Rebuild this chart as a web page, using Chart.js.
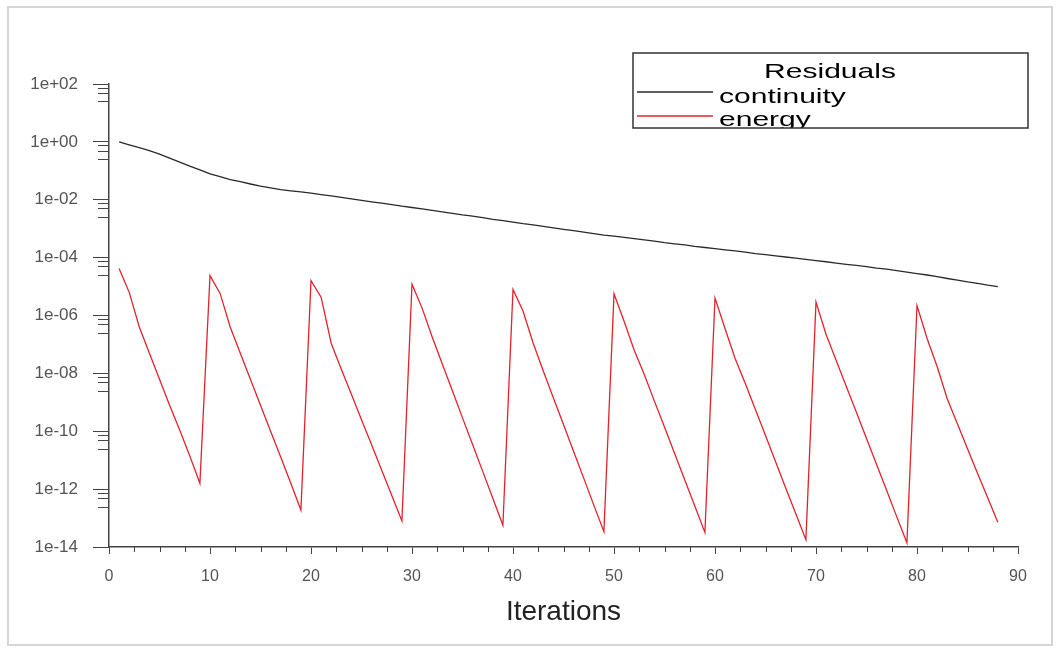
<!DOCTYPE html>
<html>
<head>
<meta charset="utf-8">
<title>Residuals</title>
<script src="https://cdn.jsdelivr.net/npm/chart.js@4.4.0/dist/chart.umd.min.js"></script>
<style>
  body { margin: 0; background: #fff; }
  canvas { display: block; }
</style>
</head>
<body>
<canvas id="myChart" width="1060" height="652"></canvas>
<script>
// iterations 1..88
var iterations = [1, 2, 3, 4, 5, 6, 7, 8, 9, 10, 11, 12, 13, 14, 15, 16, 17, 18, 19, 20,
    21, 22, 23, 24, 25, 26, 27, 28, 29, 30, 31, 32, 33, 34, 35, 36, 37, 38, 39, 40,
    41, 42, 43, 44, 45, 46, 47, 48, 49, 50, 51, 52, 53, 54, 55, 56, 57, 58, 59, 60,
    61, 62, 63, 64, 65, 66, 67, 68, 69, 70, 71, 72, 73, 74, 75, 76, 77, 78, 79, 80,
    81, 82, 83, 84, 85, 86, 87, 88];

var continuity = [1.0, 0.79, 0.63, 0.5, 0.38, 0.275, 0.2, 0.145, 0.107, 0.079,
    0.063, 0.05, 0.042, 0.035, 0.0295, 0.0257, 0.0224, 0.0204, 0.0186, 0.017,
    0.0151, 0.0135, 0.012, 0.0107, 0.0095, 0.0085, 0.0076, 0.0068, 0.006, 0.0054,
    0.0048, 0.0043, 0.0038, 0.0034, 0.003, 0.0027, 0.0024, 0.0021, 0.0019, 0.0017,
    0.0015, 0.00135, 0.0012, 0.00107, 0.00095, 0.00085, 0.00076, 0.00068, 0.0006, 0.00055,
    0.0005, 0.00045, 0.00041, 0.00037, 0.00033, 0.0003, 0.000275, 0.000245, 0.000224, 0.000204,
    0.000186, 0.00017, 0.000155, 0.000138, 0.000126, 0.000115, 0.000105, 9.55e-5, 8.7e-5, 7.9e-5,
    7.2e-5, 6.46e-5, 5.89e-5, 5.37e-5, 4.9e-5, 4.37e-5, 3.98e-5, 3.55e-5, 3.16e-5, 2.82e-5,
    2.51e-5, 2.19e-5, 1.9e-5, 1.66e-5, 1.45e-5, 1.29e-5, 1.12e-5, 1.0e-5];

var energy = [4.2e-5, 6.3e-6, 4.0e-7, 5.0e-8, 6.3e-9, 7.9e-10, 1.1e-10, 1.4e-11, 1.6e-12,
    2.4e-5, 5.8e-6, 4.0e-7, 5.0e-8, 6.3e-9, 7.9e-10, 1.0e-10, 1.3e-11, 1.6e-12, 1.9e-13,
    1.6e-5, 4.3e-6, 1.1e-7, 1.4e-8, 1.9e-9, 2.5e-10, 3.4e-11, 4.5e-12, 6.0e-13, 7.9e-14,
    1.2e-5, 1.8e-6, 1.8e-7, 2.1e-8, 2.5e-9, 2.9e-10, 3.5e-11, 4.1e-12, 4.8e-13, 5.6e-14,
    7.9e-6, 1.4e-6, 1.1e-7, 1.2e-8, 1.4e-9, 1.7e-10, 2.0e-11, 2.4e-12, 2.8e-13, 3.4e-14,
    5.6e-6, 6.3e-7, 6.3e-8, 9.1e-9, 1.1e-9, 1.4e-10, 1.7e-11, 2.1e-12, 2.6e-13, 3.2e-14,
    4.0e-6, 3.5e-7, 3.2e-8, 4.5e-9, 5.6e-10, 7.1e-11, 8.9e-12, 1.1e-12, 1.4e-13, 1.8e-14,
    2.9e-6, 2.2e-7, 2.8e-8, 3.5e-9, 4.5e-10, 5.6e-11, 7.1e-12, 8.9e-13, 1.1e-13, 1.4e-14,
    2.2e-6, 1.6e-7, 1.7e-8, 1.3e-9, 1.8e-10, 2.5e-11, 3.5e-12, 5.0e-13, 7.2e-14];

var xTickValues = [0, 10, 20, 30, 40, 50, 60, 70, 80, 90];
var xTickLabels = ['0', '10', '20', '30', '40', '50', '60', '70', '80', '90'];
var xMinorTicks = [2.5, 5, 7.5, 12.5, 15, 17.5, 22.5, 25, 27.5, 32.5, 35, 37.5, 42.5, 45, 47.5,
    52.5, 55, 57.5, 62.5, 65, 67.5, 72.5, 75, 77.5, 82.5, 85, 87.5];
var yTickValues = [1e2, 1, 1e-2, 1e-4, 1e-6, 1e-8, 1e-10, 1e-12, 1e-14];
var yTickLabels = ['1e+02', '1e+00', '1e-02', '1e-04', '1e-06', '1e-08', '1e-10', '1e-12', '1e-14'];
var yMinorFactors = [0.75, 0.5, 0.25];

var seriesNames = ['continuity', 'energy'];
var seriesColors = ['#2a2a2a', '#e3232c'];
var legendTitle = 'Residuals';

var fontFamily = "'Liberation Sans', Arial, sans-serif";

// gray frame round the picture
var framePlugin = {
    id: 'frame',
    beforeDraw: function (chart) {
        var ctx = chart.ctx;
        ctx.save();
        ctx.fillStyle = '#fff';
        ctx.fillRect(0, 0, chart.width, chart.height);
        ctx.strokeStyle = '#d6d6d6';
        ctx.lineWidth = 2;
        ctx.strokeRect(8, 7, 1044, 638);
        ctx.restore();
    }
};

// short minor tick marks on both axes
var minorTicksPlugin = {
    id: 'minorTicks',
    afterDraw: function (chart) {
        var ctx = chart.ctx;
        var xs = chart.scales.x, ys = chart.scales.y;
        ctx.save();
        ctx.strokeStyle = '#444';
        ctx.lineWidth = 1;
        ctx.beginPath();
        for (var i = 0; i < xMinorTicks.length; i++) {
            var px = Math.round(xs.getPixelForValue(xMinorTicks[i])) + 0.5;
            ctx.moveTo(px, xs.top);
            ctx.lineTo(px, xs.top + 5);
        }
        for (var k = 0; k < yTickValues.length - 1; k++) {
            for (var m = 0; m < yMinorFactors.length; m++) {
                var py = Math.round(ys.getPixelForValue(yTickValues[k] * yMinorFactors[m])) + 0.5;
                ctx.moveTo(ys.right - 11, py);
                ctx.lineTo(ys.right, py);
            }
        }
        ctx.stroke();
        ctx.restore();
    }
};

// boxed legend like the solver window, bottom line cut off by the frame
var legendPlugin = {
    id: 'residualLegend',
    afterDraw: function (chart) {
        var ctx = chart.ctx;
        var bx = 633, by = 53, bw = 395, bh = 75;
        ctx.save();
        ctx.beginPath();
        ctx.rect(bx, by, bw, bh);
        ctx.clip();
        ctx.fillStyle = '#000';
        ctx.font = '21px ' + fontFamily;
        ctx.textBaseline = 'alphabetic';

        ctx.save();
        ctx.translate(830, 78);
        ctx.scale(1.43, 1);
        ctx.textAlign = 'center';
        ctx.fillText(legendTitle, 0, 0);
        ctx.restore();

        var rows = [103, 126];
        var lineY = [92, 116];
        for (var i = 0; i < seriesNames.length; i++) {
            ctx.strokeStyle = seriesColors[i];
            ctx.lineWidth = 1.3;
            ctx.beginPath();
            ctx.moveTo(637, lineY[i]);
            ctx.lineTo(713, lineY[i]);
            ctx.stroke();
            ctx.save();
            ctx.translate(719, rows[i]);
            ctx.scale(1.43, 1);
            ctx.textAlign = 'left';
            ctx.fillStyle = '#000';
            ctx.fillText(seriesNames[i], 0, 0);
            ctx.restore();
        }
        ctx.restore();

        ctx.save();
        ctx.strokeStyle = '#333';
        ctx.lineWidth = 1.5;
        ctx.strokeRect(bx, by, bw, bh);
        ctx.restore();
    }
};

var datasets = [];
var seriesData = [continuity, energy];
for (var s = 0; s < seriesNames.length; s++) {
    var pts = [];
    for (var i = 0; i < iterations.length; i++) {
        pts.push({ x: iterations[i], y: seriesData[s][i] });
    }
    datasets.push({
        label: seriesNames[s],
        data: pts,
        borderColor: seriesColors[s],
        borderWidth: 1.3,
        pointRadius: 0,
        fill: false,
        tension: 0
    });
}

var ctx = document.getElementById('myChart').getContext('2d');
var myChart = new Chart(ctx, {
    type: 'line',
    data: { datasets: datasets },
    plugins: [framePlugin, minorTicksPlugin, legendPlugin],
    options: {
        responsive: false,
        animation: false,
        layout: { padding: { left: 0, right: 42, top: 84, bottom: 0 } },
        plugins: {
            legend: { display: false },
            tooltip: { enabled: false }
        },
        scales: {
            x: {
                type: 'linear',
                min: 0,
                max: 90,
                afterBuildTicks: function (scale) {
                    scale.ticks = xTickValues.map(function (v) { return { value: v }; });
                },
                afterFit: function (scale) { scale.height = 105; },
                grid: { drawOnChartArea: false, drawTicks: true, tickLength: 7, color: '#444' },
                border: { color: '#444', width: 1.5 },
                ticks: {
                    color: '#555',
                    padding: 13,
                    maxRotation: 0,
                    autoSkip: false,
                    font: { family: fontFamily, size: 16 },
                    callback: function (v, i) { return xTickLabels[i]; }
                },
                title: {
                    display: true,
                    text: 'Iterations',
                    color: '#222',
                    font: { family: fontFamily, size: 28 },
                    padding: { top: 0, bottom: 23 }
                }
            },
            y: {
                type: 'logarithmic',
                min: 1e-14,
                max: 1e2,
                afterBuildTicks: function (scale) {
                    scale.ticks = yTickValues.map(function (v) { return { value: v }; });
                },
                afterFit: function (scale) { scale.width = 109; },
                grid: { drawOnChartArea: false, drawTicks: true, tickLength: 16, color: '#444' },
                border: { color: '#444', width: 1.5 },
                ticks: {
                    color: '#555',
                    padding: 15,
                    autoSkip: false,
                    font: { family: fontFamily, size: 17 },
                    callback: function (v, i) { return yTickLabels[i]; }
                }
            }
        }
    }
});
</script>
</body>
</html>
